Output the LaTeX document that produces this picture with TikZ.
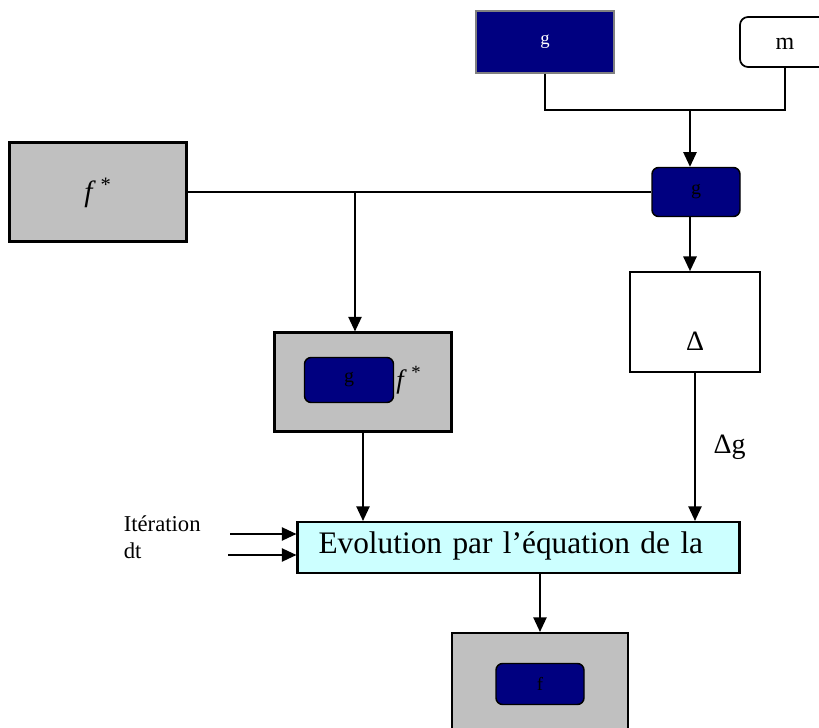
\documentclass[tikz,border=0pt]{standalone}
\usepackage{fontspec}
\setmainfont{Liberation Serif}
\usepackage{tikz}
\usetikzlibrary{arrows.meta,positioning}

\definecolor{navyblue}{HTML}{000080}
\definecolor{boxgray}{HTML}{C0C0C0}
\definecolor{evolcyan}{HTML}{CCFFFF}

\begin{document}
\begin{tikzpicture}[x=0.75pt,y=-0.75pt,
    >={Triangle[length=11pt,width=10pt]},
    line width=1.2pt,
    graybox/.style={draw=black,line width=1.6pt,fill=boxgray,minimum width=132.75pt,minimum height=74.25pt},
    navybox/.style={draw=black,line width=1.1pt,fill=navyblue,rounded corners=5pt,font=\fontsize{15}{15}\selectfont},
    whitebox/.style={draw=black,line width=1.3pt,fill=white}]
    \useasboundingbox (0,0) rectangle (819,728);

    % top: g and m
    \node[draw=gray,line width=0.8pt,fill=navyblue,text=white,minimum width=103.5pt,minimum height=46.5pt,
          font=\fontsize{14}{14}\selectfont] at (545,42) (gtop) {g};
    \node[whitebox,rounded corners=6pt,minimum width=67.5pt,minimum height=37.5pt,text height=12pt,
          font=\fontsize{18}{18}\selectfont] at (785,42) (mbox) {m};

    % f* and g
    \node[graybox,font=\fontsize{22}{22}\selectfont,text height=14pt,text depth=0pt] at (98,192) (fstar) {\textit{f}\,\textsuperscript{*}\hspace{12pt}};
    \node[navybox,minimum width=66pt,minimum height=36.75pt] at (696,192) (gmid) {g};

    % Delta
    \node[whitebox,minimum width=97.5pt,minimum height=75pt,text height=45pt,text depth=3pt,
          font=\fontsize{21}{21}\selectfont] at (695,322) (delta) {Δ};

    % g f*
    \node[graybox] at (363,382) (fbox) {};
    \node[navybox,minimum width=66.75pt,minimum height=33.75pt] at (349,380) (ginner) {g};
    \node[right=1pt of ginner,inner sep=0pt,font=\fontsize{20}{20}\selectfont] (fslabel) {\textit{f}\,\textsuperscript{*}};

    % evolution
    \node[draw=black,line width=1.6pt,fill=evolcyan,minimum height=38.25pt,text width=300pt,
          inner xsep=15.75pt,inner ysep=0pt,text height=12pt,text depth=3.75pt,align=left,
          font=\fontsize{23.5}{23.5}\selectfont] at (518.5,547.5) (evol) {Evolution par l’équation de la};

    % result
    \node[graybox,minimum width=132pt,minimum height=82.5pt] at (540,688) (fout) {};
    \node[navybox,minimum width=66pt,minimum height=30.75pt,font=\fontsize{14}{14}\selectfont] at (540,684) (finner) {f};

    % inputs
    \node[anchor=base west,inner sep=0pt,font=\fontsize{17}{17}\selectfont] at (123,531) (iter) {Itération};
    \node[anchor=base west,inner sep=0pt,font=\fontsize{17}{17}\selectfont] at (123,558) (dt) {dt};
    \coordinate (itA) at (230,534);
    \coordinate (itB) at (228,555);
    \draw[->] (itA) -- (evol.west |- itA);
    \draw[->] (itB) -- (evol.west |- itB);

    % connectors
    \coordinate (jtop) at (690,110);
    \draw (gtop.south) -- (gtop.south |- jtop) -| (mbox.south);
    \draw[->] (jtop) -- (jtop |- gmid.north);
    \draw (fstar.east) -- (gmid.west);
    \coordinate (jleft) at (355,192);
    \draw[->] (jleft) -- (jleft |- fbox.north);
    \draw[->] (gmid.south -| jtop) -- (jtop |- delta.north);
    \draw[->] (fbox.south) -- (fbox.south |- evol.north);
    \draw[->] (delta.south) -- node[right=10pt,font=\fontsize{21}{21}\selectfont] (dglabel) {Δg} (delta.south |- evol.north);
    \draw[->] (fout.north |- evol.south) -- (fout.north);
\end{tikzpicture}
\end{document}
